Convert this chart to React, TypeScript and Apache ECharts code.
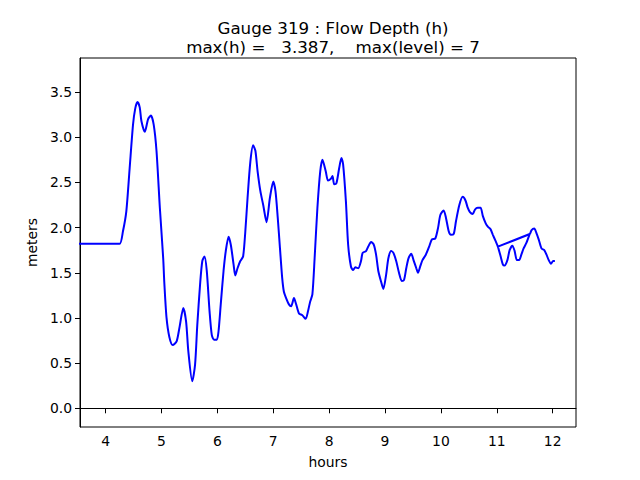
import React, { useEffect, useRef } from "react";
import * as echarts from "echarts";

const hours: number[] = [
  3.5, 3.8, 4.1, 4.25, 4.31, 4.37, 4.43, 4.49, 4.53, 4.57, 4.61, 4.64, 4.7, 4.76, 4.81, 4.86, 4.91, 4.97,
  5.03, 5.05, 5.09, 5.14, 5.2, 5.27, 5.32, 5.39, 5.44, 5.48, 5.55, 5.6, 5.64, 5.69, 5.73, 5.77, 5.81, 5.86,
  5.9, 5.94, 5.99, 6.02, 6.06, 6.11, 6.15, 6.2, 6.24, 6.29, 6.32, 6.36, 6.41, 6.46, 6.5, 6.54, 6.59, 6.64,
  6.68, 6.72, 6.77, 6.82, 6.88, 6.94, 7.0, 7.04, 7.08, 7.12, 7.16, 7.19, 7.23, 7.28, 7.32, 7.37, 7.41, 7.46,
  7.52, 7.58, 7.62, 7.66, 7.7, 7.74, 7.79, 7.84, 7.88, 7.94, 7.98, 8.03, 8.06, 8.09, 8.13, 8.18, 8.22, 8.25,
  8.3, 8.34, 8.39, 8.43, 8.47, 8.52, 8.57, 8.6, 8.66, 8.7, 8.75, 8.8, 8.84, 8.88, 8.93, 8.97, 9.02, 9.06,
  9.11, 9.15, 9.2, 9.25, 9.3, 9.34, 9.38, 9.42, 9.47, 9.51, 9.56, 9.59, 9.63, 9.67, 9.73, 9.79, 9.84, 9.9,
  9.95, 9.99, 10.05, 10.09, 10.14, 10.18, 10.23, 10.27, 10.33, 10.39, 10.44, 10.48, 10.52, 10.57, 10.61,
  10.66, 10.71, 10.75, 10.8, 10.84, 10.89, 10.93, 10.98, 11.02, 11.07, 11.11, 11.14, 11.19, 11.23, 11.28,
  11.32, 11.36, 11.4, 11.44, 11.48, 11.53, 11.59,
  // restart from checkpoint
  11.02, 11.59, 11.62, 11.67, 11.71, 11.75, 11.8, 11.85, 11.89, 11.93, 11.97, 12.01, 12.04,
];

const depth: number[] = [
  1.82, 1.82, 1.82, 1.82, 1.96, 2.18, 2.66, 3.14, 3.32, 3.39, 3.33, 3.18, 3.06, 3.2, 3.24, 3.14, 2.85, 2.22,
  1.66, 1.39, 1.0, 0.79, 0.7, 0.74, 0.89, 1.11, 0.96, 0.63, 0.3, 0.48, 0.92, 1.37, 1.63, 1.68, 1.52, 1.07,
  0.81, 0.76, 0.76, 0.85, 1.15, 1.52, 1.74, 1.9, 1.81, 1.59, 1.47, 1.55, 1.63, 1.68, 1.96, 2.33, 2.73, 2.91,
  2.85, 2.62, 2.4, 2.25, 2.06, 2.33, 2.51, 2.4, 2.11, 1.77, 1.44, 1.29, 1.22, 1.15, 1.13, 1.22, 1.15, 1.05,
  1.03, 0.99, 1.07, 1.18, 1.26, 1.66, 2.22, 2.62, 2.75, 2.62, 2.52, 2.54, 2.57, 2.48, 2.49, 2.66, 2.77, 2.7,
  2.29, 1.81, 1.57, 1.53, 1.56, 1.55, 1.63, 1.72, 1.74, 1.79, 1.84, 1.81, 1.7, 1.52, 1.4, 1.32, 1.48, 1.66,
  1.74, 1.72, 1.63, 1.5, 1.41, 1.42, 1.55, 1.66, 1.71, 1.64, 1.55, 1.5, 1.57, 1.64, 1.7, 1.79, 1.87, 1.88,
  2.0, 2.14, 2.19, 2.11, 1.96, 1.92, 1.93, 2.07, 2.25, 2.34, 2.3, 2.22, 2.17, 2.15, 2.2,
  2.22, 2.22, 2.13, 2.05, 2.01, 1.98, 1.92, 1.85, 1.79, 1.68, 1.59, 1.58, 1.64, 1.75, 1.8,
  1.74, 1.64, 1.64, 1.7, 1.77, 1.83, 1.93,
  1.79, 1.93, 1.97, 1.99, 1.94, 1.87, 1.77, 1.75, 1.7, 1.64, 1.6, 1.63, 1.63,
];

const xTicks: number[] = [4, 5, 6, 7, 8, 9, 10, 11, 12];
const yTicks: number[] = [0, 0.5, 1, 1.5, 2, 2.5, 3, 3.5];

const titleText = "Gauge 319 : Flow Depth (h)\nmax(h) =   3.387,    max(level) = 7";

const FONT = "DejaVu Sans";

export default function App() {
  const ref = useRef<HTMLDivElement>(null);
  useEffect(() => {
    if (!ref.current) return;
    const chart = echarts.init(ref.current, undefined, { renderer: "svg" });
    const data = hours.map((h, i) => [h, depth[i]]);
    chart.setOption({
      animation: false,
      backgroundColor: "#ffffff",
      title: {
        text: titleText,
        left: 328,
        top: 13,
        textAlign: "center",
        textStyle: {
          fontFamily: FONT,
          fontSize: 16.7,
          fontWeight: "normal",
          color: "#000",
          lineHeight: 19,
        },
      },
      grid: {
        left: 80,
        right: 64,
        top: 58,
        bottom: 53,
        show: true,
        borderColor: "#000",
        borderWidth: 1,
        backgroundColor: "transparent",
      },
      xAxis: {
        type: "value",
        min: 3.541,
        max: 12.418,
        name: "hours",
        nameLocation: "middle",
        nameGap: 28,
        nameTextStyle: { fontFamily: FONT, fontSize: 13.9, color: "#000" },
        axisLine: { show: true, lineStyle: { color: "#000", width: 1 } },
        axisTick: { show: true, inside: false, length: 5, customValues: xTicks, lineStyle: { color: "#000" } },
        axisLabel: {
          customValues: xTicks,
          margin: 7,
          fontFamily: FONT,
          fontSize: 13.9,
          color: "#000",
          formatter: (v: number) => String(v),
        },
        splitLine: { show: false },
      },
      yAxis: {
        type: "value",
        min: -0.207,
        max: 3.877,
        name: "meters",
        nameLocation: "middle",
        nameGap: 37,
        nameRotate: 90,
        nameTextStyle: { fontFamily: FONT, fontSize: 13.9, color: "#000" },
        axisLine: { show: true, lineStyle: { color: "#000", width: 1 } },
        axisTick: { show: true, inside: false, length: 5, customValues: yTicks, lineStyle: { color: "#000" } },
        axisLabel: {
          customValues: yTicks,
          margin: 8,
          fontFamily: FONT,
          fontSize: 13.9,
          color: "#000",
          formatter: (v: number) => v.toFixed(1),
        },
        splitLine: { show: false },
      },
      series: [
        {
          type: "line",
          data,
          showSymbol: false,
          symbol: "none",
          smooth: 0.25,
          lineStyle: { color: "#0000ff", width: 2 },
          clip: true,
        },
      ],
    });
    return () => chart.dispose();
  }, []);
  return <div ref={ref} style={{ position: "fixed", left: 0, top: 0, width: 640, height: 480 }} />;
}
